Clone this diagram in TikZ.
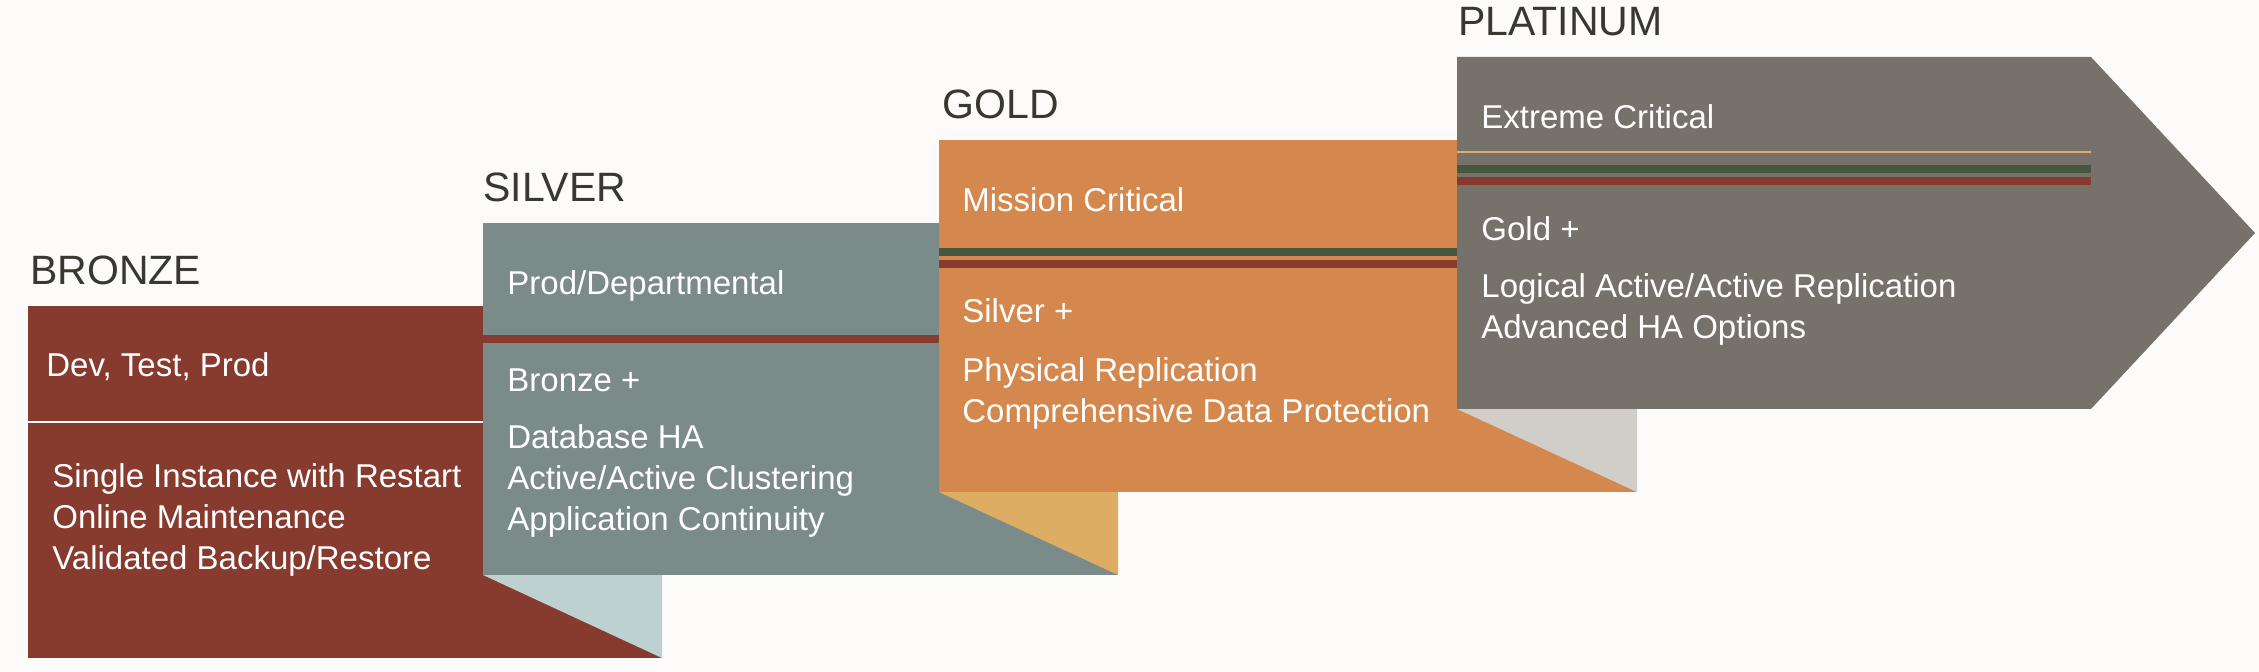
\documentclass[tikz,border=0pt]{standalone}
\usepackage{fontspec}
\setmainfont{Liberation Sans}
\usepackage{tikz}
\definecolor{paper}{RGB}{252,251,249}
\definecolor{ink}{RGB}{58,54,50}
\definecolor{bronze}{RGB}{135,58,46}
\definecolor{silver}{RGB}{122,139,138}
\definecolor{silverfold}{RGB}{190,209,209}
\definecolor{gold}{RGB}{213,136,77}
\definecolor{goldfold}{RGB}{221,173,100}
\definecolor{platinum}{RGB}{119,113,108}
\definecolor{platinumfold}{RGB}{209,205,201}
\definecolor{pine}{RGB}{71,86,62}

\begin{document}
\begin{tikzpicture}[
  x=0.5pt, y=-0.5pt,
  every node/.style={inner sep=0pt, anchor=base west},
  tier/.style={font=\fontsize{20.5}{24}\selectfont, text=ink},
  head/.style={font=\fontsize{16.5}{20.5}\selectfont, text=white},
  body/.style={font=\fontsize{16.5}{20.5}\selectfont, text=white, align=left},
]
\fill[paper] (0,0) rectangle (2259,672);
% bronze
\fill[bronze] (28,306) rectangle (662,658);
\fill[white] (28,421) rectangle (662,423);
% silver
\fill[silverfold] (483,575) -- (662,575) -- (662,658) -- cycle;
\fill[silver] (483,223) rectangle (1118,575);
\fill[bronze] (483,335) rectangle (1118,343);
% gold
\fill[goldfold] (939,492) -- (1118,492) -- (1118,575) -- cycle;
\fill[gold] (939,140) rectangle (1637,492);
\fill[pine] (939,248) rectangle (1637,256);
\fill[bronze] (939,260) rectangle (1637,268);
% platinum
\fill[platinumfold] (1457,409) -- (1637,409) -- (1637,492) -- cycle;
\fill[platinum] (1457,57) -- (2091,57) -- (2255,233) -- (2091,409) -- (1457,409) -- cycle;
\fill[goldfold] (1457,151) rectangle (2091,153);
\fill[pine] (1457,165) rectangle (2091,173);
\fill[bronze] (1457,177) rectangle (2091,185);

% labels and lists (a list node sits on the baseline of its last line)
\node[tier] (bz) at (30,285) {BRONZE};
\node[head] (bzh) at (46,377) {Dev, Test, Prod};
\node[body] (bzb) at (52,570)
  {Single Instance with Restart\\Online Maintenance\\Validated Backup/Restore};

\node[tier] (sv) at (483,202) {SILVER};
\node[head] (svh) at (507,295) {Prod/Departmental};
\node[head] (svp) at (507,392) {Bronze +};
\node[body] (svb) at (507,531)
  {Database HA\\Active/Active Clustering\\Application Continuity};

\node[tier] (gd) at (942,119) {GOLD};
\node[head] (gdh) at (962,212) {Mission Critical};
\node[head] (gdp) at (962,323) {Silver +};
\node[body] (gdb) at (962,423)
  {Physical Replication\\Comprehensive Data Protection};

\node[tier] (pt) at (1458,36) {PLATINUM};
\node[head] (pth) at (1481,129) {Extreme Critical};
\node[head] (ptp) at (1481,241) {Gold +};
\node[body] (ptb) at (1481,339)
  {Logical Active/Active Replication\\Advanced HA Options};
\end{tikzpicture}
\end{document}
